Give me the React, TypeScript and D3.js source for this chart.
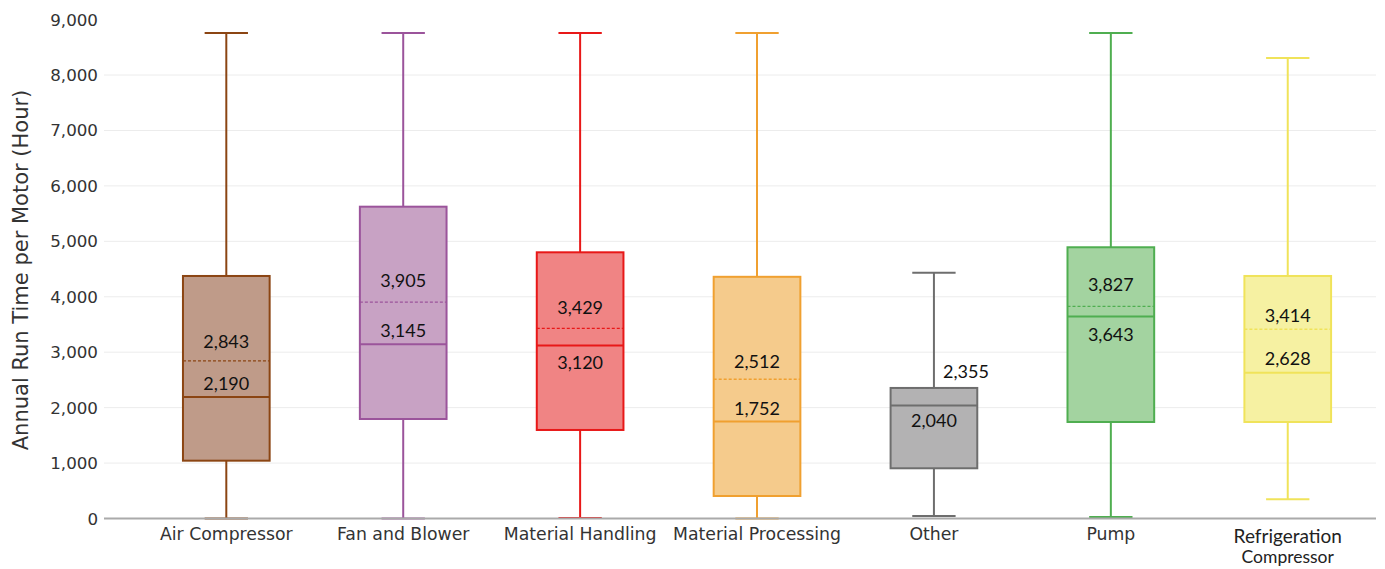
import * as d3 from "d3";

const categories = [
  "Air Compressor",
  "Fan and Blower",
  "Material Handling",
  "Material Processing",
  "Other",
  "Pump",
  "Refrigeration Compressor",
];
const lowValues = [0, 0, 10, 0, 45, 27, 346];
const q1Values = [1043, 1795, 1597, 406, 906, 1741, 1741];
const medianValues = [2190, 3145, 3120, 1752, 2040, 3643, 2628];
const meanValues = [2843, 3905, 3429, 2512, 2355, 3827, 3414];
const q3Values = [4375, 5625, 4802, 4360, 2355, 4893, 4375];
const highValues = [8760, 8760, 8760, 8760, 4435, 8760, 8307];
const yTicks = [0, 1000, 2000, 3000, 4000, 5000, 6000, 7000, 8000, 9000];

// line / fill colours per category
const STROKES = ["#8b4513", "#9b549b", "#e81818", "#f0a030", "#6e6e6e", "#4fae50", "#f0e35a"];
const FILLS = ["#bf9b89", "#c8a2c4", "#f08484", "#f5cb8c", "#b3b2b3", "#a3d3a0", "#f6f1a2"];

// annotation placement (offset of label centre from its line, px)
const meanDy = [-19, -21, -21, -18, -16, -22, -14];
const medianDy = [-13, -13, 17, -13, 15, 18, -14];
const meanDx = [0, 0, 0, 0, 32, 0, 0];

const W = 1385;
const H = 569;

export default function App() {
  const x = d3.scalePoint<string>().domain(categories).range([137.85, 1376.2]).padding(0.5);
  const y = d3.scaleLinear().domain([0, 9000]).range([518.5, 19.6]);
  const step = x.step();
  const boxW = step * 0.49;
  const capW = step * 0.245;
  const fmt = d3.format(",");
  const labelFont = "Lato, 'Open Sans', sans-serif";
  const axisFont = "'DejaVu Sans', Verdana, sans-serif";

  return (
    <svg width={W} height={H} style={{ position: "absolute", left: 0, top: 0, background: "#fff" }}>
      {/* gridlines */}
      {yTicks.slice(1, -1).map((t) => (
        <line key={t} x1={104} x2={1376} y1={y(t)} y2={y(t)} stroke="#ececec" strokeWidth={1} />
      ))}
      {/* y tick labels */}
      {yTicks.map((t) => (
        <text
          key={"l" + t}
          x={98}
          y={y(t)}
          dy="0.36em"
          textAnchor="end"
          fontFamily={axisFont}
          fontSize={16.7}
          fill="#333"
        >
          {fmt(t)}
        </text>
      ))}
      <text
        transform={`translate(28,270) rotate(-90)`}
        textAnchor="middle"
        fontFamily={axisFont}
        fontSize={21}
        fill="#333"
      >
        Annual Run Time per Motor (Hour)
      </text>

      {categories.map((c, i) => {
        const cx = x(c) as number;
        const stroke = STROKES[i];
        return (
          <g key={c}>
            <line x1={cx} x2={cx} y1={y(highValues[i])} y2={y(q3Values[i])} stroke={stroke} strokeWidth={2} />
            <line x1={cx} x2={cx} y1={y(q1Values[i])} y2={y(lowValues[i])} stroke={stroke} strokeWidth={2} />
            <line x1={cx - capW / 2} x2={cx + capW / 2} y1={y(highValues[i])} y2={y(highValues[i])} stroke={stroke} strokeWidth={2} />
            <line x1={cx - capW / 2} x2={cx + capW / 2} y1={y(lowValues[i])} y2={y(lowValues[i])} stroke={stroke} strokeWidth={2} />
            <rect
              x={cx - boxW / 2}
              y={y(q3Values[i])}
              width={boxW}
              height={y(q1Values[i]) - y(q3Values[i])}
              fill={FILLS[i]}
              stroke={stroke}
              strokeWidth={2}
            />
            <line x1={cx - boxW / 2} x2={cx + boxW / 2} y1={y(medianValues[i])} y2={y(medianValues[i])} stroke={stroke} strokeWidth={2} />
            <line
              x1={cx - boxW / 2}
              x2={cx + boxW / 2}
              y1={y(meanValues[i])}
              y2={y(meanValues[i])}
              stroke={stroke}
              strokeWidth={1.3}
              strokeDasharray="3,2"
            />
            <text
              x={cx + meanDx[i]}
              y={y(meanValues[i]) + meanDy[i]}
              dy="0.35em"
              textAnchor="middle"
              fontFamily={labelFont}
              fontSize={18}
              fill="#111"
            >
              {fmt(meanValues[i])}
            </text>
            <text
              x={cx}
              y={y(medianValues[i]) + medianDy[i]}
              dy="0.35em"
              textAnchor="middle"
              fontFamily={labelFont}
              fontSize={18}
              fill="#111"
            >
              {fmt(medianValues[i])}
            </text>
          </g>
        );
      })}

      {/* zero line */}
      <line x1={104} x2={1376} y1={y(0)} y2={y(0)} stroke="#aaaaaa" strokeWidth={2} />

      {/* category labels */}
      {categories.map((c) => {
        const cx = x(c) as number;
        if (c === "Refrigeration Compressor") {
          return (
            <g key={"c" + c} fontFamily={labelFont} fill="#222" textAnchor="middle">
              <text x={cx} y={543} fontSize={19}>Refrigeration</text>
              <text x={cx} y={563} fontSize={17.5}>Compressor</text>
            </g>
          );
        }
        return (
          <text key={"c" + c} x={cx} y={540} textAnchor="middle" fontFamily={axisFont} fontSize={17.3} fill="#333">
            {c}
          </text>
        );
      })}
    </svg>
  );
}
